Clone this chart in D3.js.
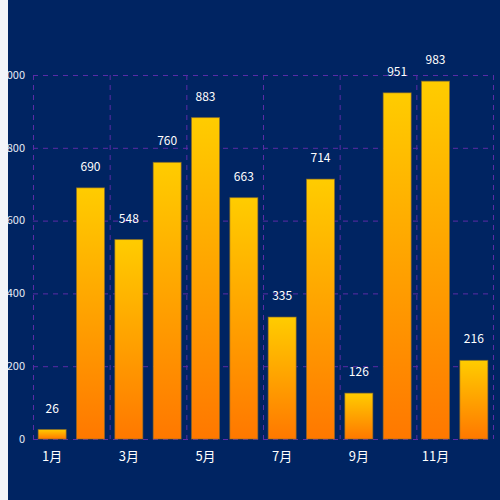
<!DOCTYPE html>
<html><head><meta charset="utf-8">
<script src="https://cdn.jsdelivr.net/npm/d3@7"></script>
<style>html,body{margin:0;padding:0;background:#002462;}svg{display:block;}</style>
</head><body>
<svg id="chart" width="500" height="500"></svg>
<script>
const categories = ["1月","2月","3月","4月","5月","6月","7月","8月","9月","10月","11月","12月"];
const values = [26, 690, 548, 760, 883, 663, 335, 714, 126, 951, 983, 216];
const yTicks = [0, 200, 400, 600, 800, 1000];

const svg = d3.select("#chart");
const W = 500, H = 500;
const m = {left: 33, right: 7, top: 75, bottom: 61};
svg.append("rect").attr("width", W).attr("height", H).attr("fill", "#002462");

const x = d3.scaleBand().domain(categories).range([m.left, W - m.right]).paddingInner(0).paddingOuter(0);
const y = d3.scaleLinear().domain([0, 1000]).range([H - m.bottom, m.top]);

const grid = "#5b2ba6";
// horizontal grid
svg.append("g").selectAll("line").data(yTicks).join("line")
  .attr("x1", m.left).attr("x2", W - m.right)
  .attr("y1", d => y(d) + 0.5).attr("y2", d => y(d) + 0.5)
  .attr("stroke", grid).attr("stroke-width", 1).attr("stroke-dasharray", "5,5");
// vertical grid at every other category boundary
const vIdx = d3.range(0, categories.length + 1, 2);
svg.append("g").selectAll("line").data(vIdx).join("line")
  .attr("x1", i => (i < categories.length ? x(categories[i]) : x.range()[1]) + 0.5)
  .attr("x2", i => (i < categories.length ? x(categories[i]) : x.range()[1]) + 0.5)
  .attr("y1", m.top).attr("y2", H - m.bottom)
  .attr("stroke", grid).attr("stroke-width", 1).attr("stroke-dasharray", "5,5");

// gradient
const defs = svg.append("defs");
const g = defs.append("linearGradient").attr("id", "barGrad")
  .attr("x1", 0).attr("y1", 0).attr("x2", 0).attr("y2", 1);
g.append("stop").attr("offset", "0%").attr("stop-color", "#ffcc00");
g.append("stop").attr("offset", "100%").attr("stop-color", "#ff7800");

const bw = 28;
svg.append("g").selectAll("rect").data(values).join("rect")
  .attr("x", (d, i) => x(categories[i]) + x.bandwidth() / 2 - bw / 2)
  .attr("y", d => y(d))
  .attr("width", bw)
  .attr("height", d => y(0) - y(d))
  .attr("fill", "url(#barGrad)")
  .attr("stroke", "#8a6a2a").attr("stroke-opacity", 0.6).attr("stroke-width", 1);

// value labels
svg.append("g").selectAll("text").data(values).join("text")
  .attr("x", (d, i) => x(categories[i]) + x.bandwidth() / 2)
  .attr("y", d => y(d) - 17)
  .attr("text-anchor", "middle")
  .attr("fill", "#ffffff")
  .attr("font-family", "'Microsoft YaHei','Noto Sans CJK SC',sans-serif")
  .attr("font-size", 12)
  .text(d => d);

// y axis labels
svg.append("g").selectAll("text").data(yTicks).join("text")
  .attr("x", m.left - 8)
  .attr("y", d => y(d))
  .attr("dy", "0.35em")
  .attr("text-anchor", "end")
  .attr("fill", "#e6ebf5")
  .attr("font-family", "'Microsoft YaHei','Noto Sans CJK SC',sans-serif")
  .attr("font-size", 11)
  .text(d => d);

// x axis labels (every other)
svg.append("g").selectAll("text").data(categories.filter((c, i) => i % 2 === 0)).join("text")
  .attr("x", d => x(d) + x.bandwidth() / 2)
  .attr("y", H - m.bottom + 17)
  .attr("dy", "0.35em")
  .attr("text-anchor", "middle")
  .attr("fill", "#ffffff")
  .attr("font-family", "'Microsoft YaHei','Noto Sans CJK SC',sans-serif")
  .attr("font-size", 13)
  .text(d => d);

// left page strip
svg.append("rect").attr("x", 0).attr("y", 0).attr("width", 8).attr("height", H).attr("fill", "#f3f4f9");
</script>
</body></html>
